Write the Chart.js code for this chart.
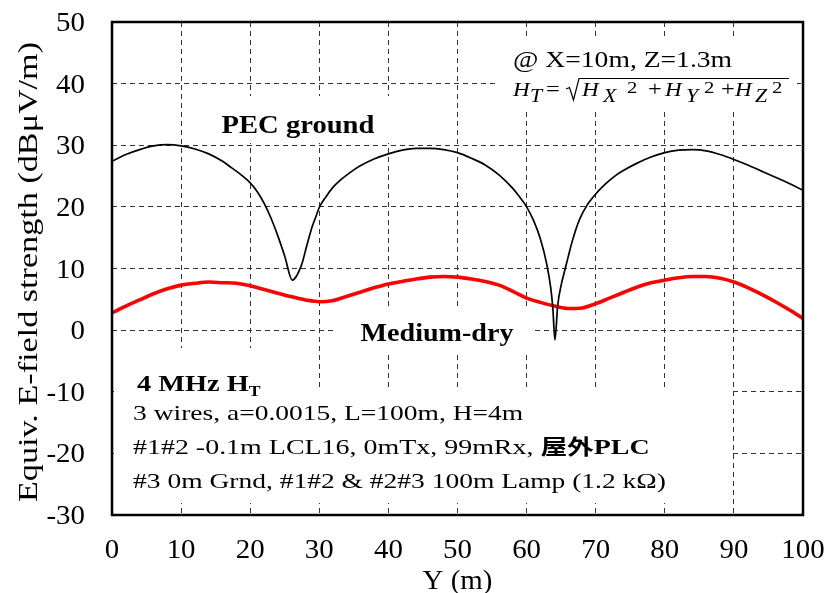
<!DOCTYPE html>
<html>
<head>
<meta charset="utf-8">
<script src="https://cdn.jsdelivr.net/npm/chart.js@4.4.1/dist/chart.umd.min.js"></script>
<style>
  html, body { margin: 0; padding: 0; background: #fff; }
  #wrap { width: 829px; height: 593px; }
</style>
</head>
<body>
<div id="wrap"><canvas id="chart" width="829" height="593"></canvas></div>
<script>
/* 4 MHz H_T along Y — PEC ground vs Medium-dry */

// PEC ground curve (Y in m, field in dBuV/m)
var pecY = [0, 2, 4, 6, 8, 10, 12, 14, 16, 17, 18, 19, 20, 21, 22, 23, 24, 25, 26.1, 26.6, 27, 27.5, 28, 28.5, 29, 29.5, 30, 31, 32, 33, 34, 35, 36, 38,
            40, 42, 44, 46, 48, 50, 52, 54, 56, 58, 59, 60, 61, 62, 62.9, 63.5, 63.8, 64.1, 64.5, 65, 65.5, 66, 66.5, 67, 67.5, 68, 68.5, 69, 69.5, 70, 71, 72, 73,
            74, 76, 78, 80, 82, 84, 86, 88, 90, 92, 94, 96, 98, 100];
var pecE = [27.4, 28.5, 29.3, 29.9, 30.1, 29.9, 29.4, 28.6, 27.4, 26.6, 25.8, 24.9, 23.9, 22.5, 20.6, 18.2, 15.3, 12.0, 8.1, 8.6, 9.4, 10.8, 12.9, 15.0, 16.9, 18.4, 19.9, 21.7, 23.2, 24.3, 25.2, 26.0, 26.7, 27.8,
            28.6, 29.2, 29.5, 29.5, 29.3, 28.8, 27.9, 26.8, 25.2, 23.0, 21.6, 20.0, 17.8, 14.8, 10.8, 6.8, 3.5, -1.6, 4.0, 7.3, 9.6, 11.8, 14.0, 15.9, 17.5, 18.8, 19.8, 20.7, 21.4, 22.1, 23.3, 24.3, 25.2,
            25.9, 27.1, 28.1, 28.8, 29.2, 29.3, 29.1, 28.5, 27.7, 26.8, 25.8, 24.8, 23.8, 22.7];

// Medium-dry ground curve
var dryY = [0, 2, 4, 6, 8, 10, 12, 14, 16, 18, 20, 22, 24, 26, 28, 30, 32, 34, 36, 38, 40, 42, 44, 46, 48, 50,
            52, 54, 56, 58, 60, 62, 64, 66, 68, 70, 72, 74, 76, 78, 80, 82, 84, 86, 88, 90, 92, 94, 96, 98, 100];
var dryE = [2.8, 3.9, 4.9, 5.9, 6.7, 7.3, 7.6, 7.8, 7.7, 7.6, 7.2, 6.6, 6.0, 5.4, 4.9, 4.6, 4.8, 5.5, 6.2, 6.9, 7.5, 7.9, 8.3, 8.6, 8.7, 8.6,
            8.3, 7.9, 7.3, 6.3, 5.2, 4.5, 3.9, 3.5, 3.6, 4.3, 5.2, 6.1, 7.0, 7.7, 8.1, 8.5, 8.7, 8.7, 8.4, 7.8, 6.9, 5.8, 4.6, 3.3, 1.9];

var X_MIN = 0, X_MAX = 100, X_STEP = 10;
var Y_MIN = -30, Y_MAX = 50, Y_STEP = 10;

var INK = '#000', GRID = '#333', RED = '#ff0000';
var SERIF = '"Liberation Serif", "Times New Roman", serif';
var SX = 1.1; // the source figure is a little stretched horizontally

function pts(xs, ys) {
  return xs.map(function (x, i) { return { x: x, y: ys[i] }; });
}

function txt(ctx, s, x, y, font, align, sx) {
  ctx.save();
  ctx.font = font;
  ctx.translate(x, y);
  ctx.scale(sx || SX, 1);
  ctx.textAlign = align || 'left';
  ctx.textBaseline = 'alphabetic';
  ctx.fillStyle = INK;
  ctx.fillText(s, 0, 0);
  ctx.restore();
}

// runs: [text, font, dy]; returns end x
function runs(ctx, list, x, y, sx) {
  sx = sx || SX;
  list.forEach(function (r) {
    txt(ctx, r[0], x, y + (r[2] || 0), r[1], 'left', sx);
    ctx.font = r[1];
    x += ctx.measureText(r[0]).width * sx;
  });
  return x;
}

function box(ctx, x, y, w, h) {
  ctx.fillStyle = '#fff';
  ctx.fillRect(x, y, w, h);
}

var notes = {
  id: 'notes',
  beforeDatasetsDraw: function (chart) {
    var ctx = chart.ctx;
    ctx.save();
    // white label boxes over the grid
    box(ctx, 495, 38, 302, 74);
    box(ctx, 183, 96, 240, 47);
    box(ctx, 335, 308, 197, 44);
    box(ctx, 114, 348, 202, 42);
    box(ctx, 114, 388, 616, 115);

    txt(ctx, '@ X=10m, Z=1.3m', 513, 67, '23px ' + SERIF, 'left', 1.2);

    // H_T = sqrt(Hx^2 + Hy^2 + Hz^2)
    var it = 'italic 19px ' + SERIF, sub = 'italic 18px ' + SERIF, two = '17px ' + SERIF, rm = '20px ' + SERIF;
    var b = 96, sx = 1.22;
    txt(ctx, 'H', 513, b, it, 'left', sx);
    txt(ctx, 'T', 530, b + 6, sub, 'left', sx);
    txt(ctx, '=', 546, b, rm, 'left', sx);
    ctx.strokeStyle = INK; ctx.lineWidth = 1.2;
    ctx.beginPath();
    ctx.moveTo(566, 89); ctx.lineTo(569.5, 87.5); ctx.lineTo(573.5, 100); ctx.lineTo(579, 78.5); ctx.lineTo(789, 78.5);
    ctx.stroke();
    [['H', it, 582, 0], ['X', sub, 603, 6], ['2', two, 627, -3], ['+', rm, 648, 0],
     ['H', it, 665, 0], ['Y', sub, 686, 6], ['2', two, 704, -3], ['+', rm, 721, 0],
     ['H', it, 735, 0], ['Z', sub, 755, 6], ['2', two, 772, -3]].forEach(function (p) {
      txt(ctx, p[0], p[2], b + p[3], p[1], 'left', sx);
    });

    // curve labels
    txt(ctx, 'PEC ground', 298, 133, 'bold 26px ' + SERIF, 'center', 1.1);
    txt(ctx, 'Medium-dry', 437, 341, 'bold 26px ' + SERIF, 'center', 1.08);

    // case description
    runs(ctx, [['4 MHz H', 'bold 24px ' + SERIF], ['T', 'bold 15px ' + SERIF, 5]], 137, 391, 1.18);
    var f = '22px ' + SERIF;
    txt(ctx, '3 wires, a=0.0015, L=100m, H=4m', 133, 420, f, 'left', 1.25);
    runs(ctx, [['#1#2 -0.1m LCL16, 0mTx, 99mRx, ', f], ['屋外', 'bold 21px "Noto Sans CJK JP", sans-serif'], ['PLC', 'bold 22px ' + SERIF]], 133, 454, 1.27);
    txt(ctx, '#3 0m Grnd, #1#2 & #2#3 100m Lamp (1.2 k\u03A9)', 133, 488, f, 'left', 1.25);
    ctx.restore();
  },
  afterDraw: function (chart) {
    var ctx = chart.ctx, a = chart.chartArea;
    var xs = chart.scales.x, ys = chart.scales.y;
    ctx.save();
    // frame
    ctx.strokeStyle = INK; ctx.lineWidth = 2.5;
    ctx.strokeRect(a.left, a.top, a.right - a.left, a.bottom - a.top);
    // tick labels
    var tf = '27px ' + SERIF;
    ys.ticks.forEach(function (t) {
      txt(ctx, String(t.value), a.left - 27, ys.getPixelForValue(t.value) + 9, tf, 'right', 1.07);
    });
    xs.ticks.forEach(function (t) {
      txt(ctx, String(t.value), xs.getPixelForValue(t.value), 558, tf, 'center', 1.07);
    });
    // axis titles
    txt(ctx, 'Y (m)', (a.left + a.right) / 2, 589, tf, 'center', 1.07);
    ctx.save();
    ctx.translate(37, 272);
    ctx.rotate(-Math.PI / 2);
    txt(ctx, 'Equiv. E-field strength (dB\u03BCV/m)', 0, 0, '28px ' + SERIF, 'center', 1.22);
    ctx.restore();
    ctx.restore();
  }
};

new Chart(document.getElementById('chart'), {
  type: 'line',
  data: {
    datasets: [
      { label: 'PEC ground', data: pts(pecY, pecE), borderColor: INK, borderWidth: 1.7,
        pointRadius: 0, cubicInterpolationMode: 'monotone', fill: false },
      { label: 'Medium-dry', data: pts(dryY, dryE), borderColor: RED, borderWidth: 3.6,
        pointRadius: 0, cubicInterpolationMode: 'monotone', fill: false }
    ]
  },
  options: {
    responsive: false,
    animation: false,
    layout: { padding: { left: 0, top: 22, right: 26, bottom: 0 } },
    plugins: { legend: { display: false }, tooltip: { enabled: false } },
    scales: {
      x: {
        type: 'linear', min: X_MIN, max: X_MAX,
        ticks: { stepSize: X_STEP, display: false },
        grid: { color: GRID, lineWidth: 1, drawTicks: false },
        border: { display: false, dash: [5, 4] },
        afterFit: function (s) { s.height = 78; }
      },
      y: {
        min: Y_MIN, max: Y_MAX,
        ticks: { stepSize: Y_STEP, display: false },
        grid: { color: GRID, lineWidth: 1, drawTicks: false },
        border: { display: false, dash: [5, 4] },
        afterFit: function (s) { s.width = 112; }
      }
    }
  },
  plugins: [notes]
});
</script>
</body>
</html>
